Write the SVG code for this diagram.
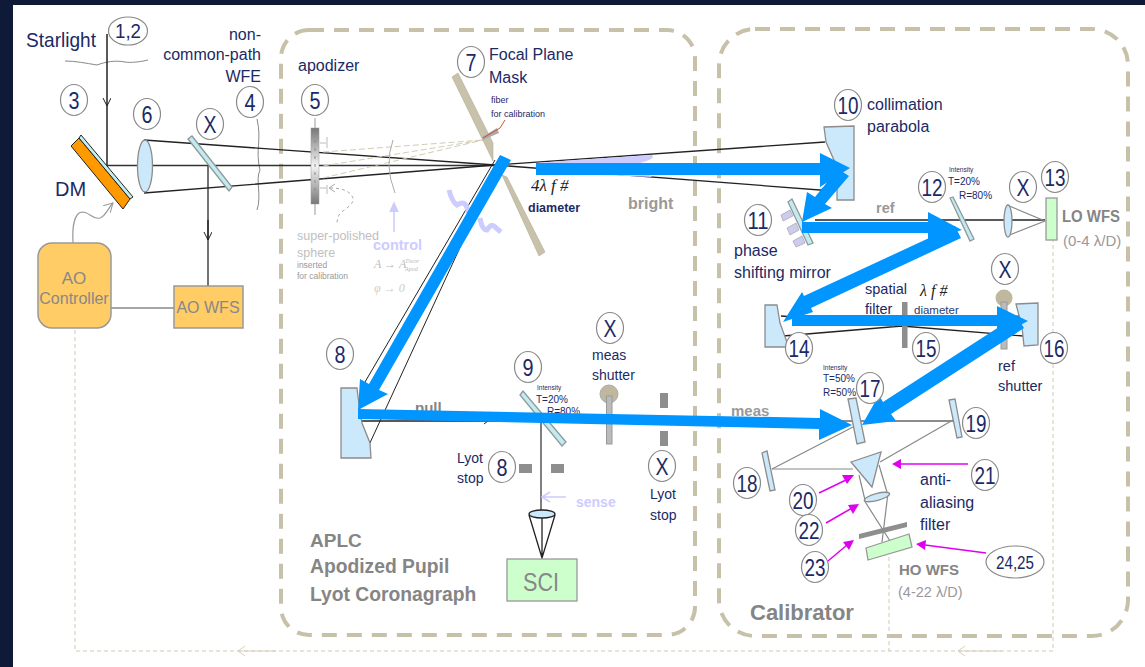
<svg xmlns="http://www.w3.org/2000/svg" width="1145" height="667" viewBox="0 0 1145 667">
<defs>
<linearGradient id="apod" x1="0" y1="0" x2="0" y2="1"><stop offset="0" stop-color="#777"/><stop offset="0.5" stop-color="#f4f4f4"/><stop offset="1" stop-color="#777"/></linearGradient>
<marker id="ah" markerWidth="10" markerHeight="10" refX="8" refY="4" orient="auto" markerUnits="userSpaceOnUse"><path d="M0,0 L8,4 L0,8" fill="none" stroke="#222" stroke-width="1"/></marker>
<marker id="ahg" markerWidth="12" markerHeight="12" refX="9" refY="5" orient="auto" markerUnits="userSpaceOnUse"><path d="M0,0 L9,5 L0,10" fill="none" stroke="#999" stroke-width="1"/></marker>
</defs>
<style>
text{font-family:"Liberation Sans",Arial,sans-serif;fill:#1b2a66}
.n{font-size:24px;text-anchor:middle}
.l{font-size:16px}
.g{fill:#858585;font-weight:bold}
.gl{fill:#c0c0c0}
.li{fill:#ccccff;font-weight:bold}
.c{fill:#fff;stroke:#8a8a8a;stroke-width:1.2}
.box{fill:none;stroke:#c8c1a9;stroke-width:4;stroke-dasharray:15 10}
.ray{fill:none;stroke:#222;stroke-width:1.3}
.rayg{fill:none;stroke:#888;stroke-width:1.2}
.op{fill:#cce8fb;stroke:#8c8c8c;stroke-width:1.3}
.opd{fill:#c5e9f0;stroke:#8c9a9a;stroke-width:1.3}
.sens{fill:#ccffcc;stroke:#999;stroke-width:1.3}
.ao{fill:#ffcc66;stroke:#999;stroke-width:1.5}
.stop{fill:#8e8e8e}
.dot{fill:none;stroke:#cfc9b4;stroke-width:1;stroke-dasharray:4 3}
.mag{stroke:#e000f0;stroke-width:1.5;fill:none}
.magh{fill:#e000f0}
.blue{fill:#0095ff}
.mono{font-family:"Liberation Serif",serif;font-style:italic;fill:#222}
.pad{fill:#ccccee;stroke:#999;stroke-width:.6}
</style>
<rect x="0" y="0" width="1145" height="667" fill="#0f1a38"/>
<rect x="13" y="5" width="1132" height="662" fill="#fff"/>
<g id="frames">
<rect class="box" x="281" y="30" width="414" height="605" rx="28"/>
<rect class="box" x="719" y="29" width="409" height="607" rx="36"/>
</g>
<g id="feedback">
<path class="dot" d="M75,330 V651 H1053 V240"/>
<path class="dot" d="M889,557 V651"/>
<path d="M245,646 L238,651 L245,656 M238,651 H276" fill="none" stroke="#d6d0bd" stroke-width="1"/>
<path d="M965,646 L958,651 L965,656 M958,651 H1002" fill="none" stroke="#d6d0bd" stroke-width="1"/>
</g>
<g id="connectors">
<path d="M65,61 C75,61 85,63 97,65 C105,62 115,60 125,62 C130,63 140,62 148,60" fill="none" stroke="#888" stroke-width="1"/>
<path d="M257,119 C262,140 255,150 260,170 C255,180 262,195 257,210" fill="none" stroke="#888" stroke-width="1"/>
<path class="ray" d="M107,34 V106" marker-end="url(#ah)" style="stroke-width:1.5"/>
<path class="ray" d="M107,106 V165" style="stroke-width:1.5"/>
<path class="ray" d="M107,165.5 H495" style="stroke-width:1.5;stroke:#333"/>
<path class="ray" d="M208,166 V286" style="stroke-width:1.5;stroke:#444"/>
<path class="ray" d="M208,220 V240" marker-end="url(#ah)"/>
<path class="rayg" d="M111,308 H174" style="stroke-width:1.3"/>
<path d="M73,243 C72,225 75,213 82,212 C90,212 92,220 100,218 C106,216 108,208 113,203" fill="none" stroke="#999" stroke-width="1.2" marker-end="url(#ahg)"/>
<path class="ray" d="M144,140 L495,165 L825,142"/>
<path class="ray" d="M144,193 L495,165 L833,191"/>
<path class="ray" d="M360,421 H540"/>
<path class="ray" d="M484,424 L488,421" style="stroke-width:1"/>
<path class="ray" d="M495,160 L365,382" style="stroke-width:1"/>
<path class="ray" d="M498,165 L369,445" style="stroke-width:1"/>
<path class="ray" d="M541,420 V518" style="stroke:#555;stroke-width:1.5"/>
<path class="ray" d="M529,515 L542,558 L555,515 M542,518 V558"/>
<path class="ray" d="M815,220 H1045"/>
<path class="ray" d="M817,197 L823,188"/>
<path class="ray" d="M783,336 L902,326 L1023,336 M781,316 L902,326 L1020,316"/>
<path class="rayg" d="M1007,205 L1045,221 L1007,236"/>
<path class="ray" d="M840,421 H953" style="stroke:#666"/>
<path class="rayg" d="M772,469 L853,427"/>
<path class="rayg" d="M772,469 H853"/>
<path class="rayg" d="M880,462 L953,420"/>
<path class="rayg" d="M859,475 L865,500"/>
<path class="rayg" d="M879,465 L887,492"/>
<path class="rayg" d="M864,500 L890,541 M888,493 L882,542"/>
<path d="M323,152 L483,140 M323,166 L483,140 M323,178 L483,140" fill="none" stroke="#d2cdb4" stroke-width="1" stroke-dasharray="6 3"/>
<path d="M393,140 Q384,165 395,193" fill="none" stroke="#aaa" stroke-width="1"/>
<path d="M330,188 C340,188 350,190 353,198 C355,205 342,210 339,215 C337,219 337,222 337,225" fill="none" stroke="#aaa" stroke-width="1" stroke-dasharray="3 3"/>
<path d="M335,184 L329,188 L335,192" fill="none" stroke="#aaa" stroke-width="1"/>
</g>
<g id="dm"><polygon points="71,146 79,138 130,199 123,209" fill="#ff9900" stroke="#222" stroke-width="1"/><polygon points="79,138 81,135 133,197 130,199" fill="#c5eef0" stroke="#222" stroke-width="1"/><text x="55" y="196" style="font-size:20px">DM</text></g>
<g id="lens6"><ellipse cx="145" cy="166" rx="7.5" ry="26" class="op"/></g>
<g id="mirrorx"><polygon points="188,139 192,136 232,187 229,191" class="opd"/></g>
<g id="ao-controller"><rect class="ao" x="38" y="243" width="73" height="85" rx="14"/><text x="74" y="284" text-anchor="middle" style="font-size:17px;fill:#888">AO</text><text x="74" y="304" text-anchor="middle" style="font-size:16px;fill:#888">Controller</text></g>
<g id="ao-wfs"><rect class="ao" x="174" y="286" width="69" height="42"/><text x="208" y="313" text-anchor="middle" style="font-size:16px;fill:#888">AO WFS</text></g>
<g id="apodizer"><rect x="311" y="128" width="8" height="76" fill="url(#apod)" stroke="#999" stroke-width="0.5"/><path d="M315,118 V128 M315,204 V215" stroke="#999"/><path d="M315,132 V200" stroke="#888" stroke-dasharray="3 5"/><path d="M320,143 H326 M327,137 V148 M320,188 H326 M327,185 V194" fill="none" stroke="#bbb"/></g>
<g id="fpm"><polygon points="452,77 458,73 493,143 493,161" fill="#c9c2aa" stroke="#a8a290" stroke-width="0.5"/><polygon points="502,175 507,177 545,252 539,256" fill="#c9c2aa" stroke="#a8a290" stroke-width="0.5"/><polygon points="482,137 497,128 499,133 483,140" fill="#aaa"/><path d="M483,138 L500,128 L505,120" fill="none" stroke="#d8502a" stroke-width="1"/></g>
<g id="squiggles"><path d="M449,190 Q452,202 457,205 Q465,200 467,208 L469,213 M480,218 Q482,230 487,230 Q492,222 496,228 L501,232" fill="none" stroke="#ccccff" stroke-width="5"/><path d="M394,232 V207 M390,212 L394,203 L398,212" stroke="#ccccff" stroke-width="1.5" fill="#ccccff"/></g>
<g id="mirror8"><path class="op" d="M341,388 H357 L358,397 L362,423 L370,443 L371,458 H341 Z"/></g>
<g id="beamsplitter9"><polygon points="520,395 523,391 566,442 562,446" class="opd"/></g>
<g id="lyot8"><rect class="stop" x="519" y="464" width="13" height="9"/><rect class="stop" x="551" y="464" width="13" height="9"/></g>
<g id="sense-arrow"><path d="M566,497 H543 M550,492 L542,497 L550,502" fill="none" stroke="#ccccff" stroke-width="1.5"/></g>
<g id="lens-sci"><ellipse cx="542" cy="514" rx="13" ry="4" class="op" style="stroke:#222"/></g>
<g id="sci"><rect class="sens" x="507" y="559" width="70" height="42"/><text x="523" y="591" textLength="36" lengthAdjust="spacingAndGlyphs" style="font-size:26px;fill:#888">SCI</text></g>
<g id="meas-shutter"><circle cx="609" cy="394" r="9" fill="#c0b89e" stroke="#aaa"/><rect x="606.500" y="396" width="5.500" height="48" fill="#bbb" stroke="#999"/></g>
<g id="xstop"><rect class="stop" x="660" y="393" width="8" height="15"/><rect class="stop" x="660" y="431" width="8" height="15"/></g>
<g id="parabola10"><path class="op" d="M824,127 L854,126 V200 H837 V167 L826,142 Z"/></g>
<g id="psm11"><polygon points="788,202 792,199 813,243 808,245" class="opd"/><polygon points="781,215 790,210 793,216 783,221" class="pad"/><polygon points="787,228 796,223 799,230 790,235" class="pad"/><polygon points="793,241 802,236 805,243 796,247" class="pad"/></g>
<g id="bs12"><polygon points="950,198 953,197 974,239 970,241" class="opd"/></g>
<g id="lens13"><ellipse cx="1008" cy="221" rx="4" ry="16" class="op"/></g>
<g id="lowfs"><rect class="sens" x="1046" y="198" width="11" height="42"/><text x="1062" y="222" class="g" textLength="58" lengthAdjust="spacingAndGlyphs" style="font-size:16px">LO WFS</text><text x="1063" y="246" class="gl" style="font-size:15px;fill:#999">(0-4 λ/D)</text></g>
<g id="parabola14"><path class="op" d="M765,305 H777 L780,323 L788,345 V347 H765 Z"/></g>
<g id="filter15"><rect class="stop" x="902" y="302" width="5.500" height="46"/></g>
<g id="parabola16"><path class="op" d="M1016,304 L1038,303 V345 L1024,346 L1022,327 Z"/></g>
<g id="ref-shutter"><circle cx="1004" cy="298" r="8.500" fill="#c0b89e"/><rect x="1001" y="302" width="6" height="47" fill="#bbb" stroke="#999"/></g>
<g id="bs17"><polygon points="848,399 856,398 865,442 857,444" class="op"/></g>
<g id="m18"><polygon points="762,453 767,451 775,490 770,491" class="op"/></g>
<g id="m19"><polygon points="949,400 955,399 962,437 957,438" class="op"/></g>
<g id="prism"><polygon points="851,462 881,452 872,487" class="op"/></g>
<g id="lens22"><ellipse cx="877" cy="497" rx="13" ry="3.500" class="op" transform="rotate(-15 877 497)"/></g>
<g id="stop-ho"><polygon points="859,534 907,522 907,527 859,539" class="stop"/></g>
<g id="hownfs"><polygon points="866,548 909,534 912,547 868,560" class="sens"/></g>
<g id="under-text">
<text x="415" y="413" class="g" style="font-size:15px">pull</text>
<text x="547" y="415" style="font-size:10px">R=80%</text>
</g>
<g id="blue-arrows">
<path d="M536,163 H640 C650,160 655,158 652,155 L575,160 Z" fill="#ccccff"/>
<path d="M536,175 H650 L652,177 L600,175 Z" fill="#ccccff"/>
<path class="blue" d="M536,163 H820 V153 L850,168 L820,187 V175 H536 Z"/>
<path class="blue" d="M838,169 L849,176 L825,204 L832,208 L802,222 L807,192 L815,197 Z"/>
<path class="blue" d="M802,222 H928 V212 L962,230 L928,240 V233 H802 Z"/>
<path class="blue" d="M955,226 L961,238 L811,308 L813,312 L783,322 L802,292 L804,296 Z"/>
<path class="blue" d="M792,315 H997 V306 L1028,321 L997,337 V326 H792 Z"/>
<path class="blue" d="M1016,316 L1024,328 L891,414 L896,421 L862,425 L879,395 L883,402 Z"/>
<path class="blue" d="M500,155 L511,160 L379,390 L388,394 L358,410 L360,379 L369,384 Z"/>
<path class="blue" d="M358,409 L820,418 V409 L852,425 L819,440 V429 L358,419 Z"/>
</g>
<g id="mag-arrows">
<path class="mag" d="M968,464 H900"/><polygon class="magh" points="892,464 901,459 901,469"/>
<path class="mag" d="M819,493 L846,480"/><polygon class="magh" points="854,475 842,475 847,484"/>
<path class="mag" d="M826,523 L852,508"/><polygon class="magh" points="859,504 848,505 853,514"/>
<path class="mag" d="M828,561 L847,545"/><polygon class="magh" points="854,540 843,542 849,550"/>
<path class="mag" d="M986,553 L925,545"/><polygon class="magh" points="916,544 926,540 925,550"/>
</g>
<g id="labels">
<text x="26" y="47" textLength="70" lengthAdjust="spacingAndGlyphs" style="font-size:21px">Starlight</text>
<text x="261" y="40" text-anchor="end" style="font-size:16px">non-</text>
<text x="261" y="60" text-anchor="end" style="font-size:16px">common-path</text>
<text x="261" y="82" text-anchor="end" style="font-size:16px">WFE</text>
<text x="298" y="71" class="l">apodizer</text>
<text x="489" y="60" class="l">Focal Plane</text>
<text x="489" y="83" class="l">Mask</text>
<text x="491" y="103" style="font-size:9px">fiber</text>
<text x="491" y="117" style="font-size:9px">for calibration</text>
<text x="531" y="191" class="mono" style="font-size:17px">4λ f #</text>
<text x="528" y="212" style="font-size:12.5px;font-weight:bold">diameter</text>
<text x="628" y="209" class="g" style="font-size:16px;fill:#999">bright</text>
<text x="297" y="240" class="gl" style="font-size:12.5px">super-polished</text>
<text x="297" y="257" class="gl" style="font-size:12.5px">sphere</text>
<text x="297" y="268" class="gl" style="font-size:8.5px;fill:#999">inserted</text>
<text x="297" y="279" class="gl" style="font-size:8.5px;fill:#999">for calibration</text>
<text x="373" y="250" class="li" style="font-size:14.5px">control</text>
<text x="374" y="268" class="mono" style="font-size:12px;fill:#bbb">A → A</text>
<text x="405" y="263" class="mono" style="font-size:6px;fill:#bbb">Theor</text>
<text x="405" y="271" class="mono" style="font-size:6px;fill:#bbb">Apod</text>
<text x="374" y="292" class="mono" style="font-size:12px;fill:#ccc">φ → 0</text>
<text x="537" y="390" style="font-size:6.5px">Intensity</text>
<text x="536" y="403" style="font-size:10px">T=20%</text>
<text x="592" y="360" class="l" style="font-size:14px">meas</text>
<text x="592" y="380" class="l" style="font-size:14px">shutter</text>
<text x="457" y="463" class="l" style="font-size:14px">Lyot</text>
<text x="457" y="483" class="l" style="font-size:14px">stop</text>
<text x="650" y="499" class="l" style="font-size:14px">Lyot</text>
<text x="650" y="520" class="l" style="font-size:14px">stop</text>
<text x="576" y="507" class="li" style="font-size:14px">sense</text>
<text x="310" y="547" class="g" style="font-size:19px">APLC</text>
<text x="310" y="573" class="g" style="font-size:19.3px">Apodized Pupil</text>
<text x="310" y="601" class="g" style="font-size:19.300px">Lyot Coronagraph</text>
<text x="867" y="110" class="l">collimation</text>
<text x="867" y="132" class="l">parabola</text>
<text x="876" y="213" class="g" style="font-size:14.5px;fill:#999">ref</text>
<text x="949" y="172" style="font-size:6.5px">Intensity</text>
<text x="948" y="185" style="font-size:10px">T=20%</text>
<text x="959" y="199" style="font-size:10px">R=80%</text>
<text x="734" y="256" class="l">phase</text>
<text x="734" y="278" class="l">shifting mirror</text>
<text x="865" y="294" class="l" style="font-size:14.5px">spatial</text>
<text x="865" y="314" class="l" style="font-size:14.5px">filter</text>
<text x="920" y="296" class="mono" style="font-size:16px">λ f #</text>
<text x="914" y="314" style="font-size:11.5px;fill:#2a3a70">diameter</text>
<text x="998" y="371" class="l" style="font-size:14.5px">ref</text>
<text x="998" y="391" class="l" style="font-size:14.5px">shutter</text>
<text x="823" y="370" style="font-size:6.5px">Intensity</text>
<text x="823" y="382" style="font-size:10px">T=50%</text>
<text x="823" y="396" style="font-size:10px">R=50%</text>
<text x="731" y="416" class="g" style="font-size:15px;fill:#999">meas</text>
<text x="920" y="485" class="l">anti-</text>
<text x="920" y="508" class="l">aliasing</text>
<text x="920" y="530" class="l">filter</text>
<text x="899" y="575" class="g" style="font-size:15px">HO WFS</text>
<text x="898" y="597" class="gl" style="font-size:14.5px;fill:#999">(4-22 λ/D)</text>
<text x="750" y="620" class="g" style="font-size:22px">Calibrator</text>
</g>
<g id="callouts">
<ellipse class="c" cx="128" cy="31" rx="19.500" ry="14"/><text x="115" y="38" textLength="26" lengthAdjust="spacingAndGlyphs" style="font-size:21px">1,2</text>
<ellipse class="c" cx="74" cy="100" rx="13.500" ry="15.500"/><text class="n" x="74" y="108.500" textLength="11" lengthAdjust="spacingAndGlyphs">3</text>
<ellipse class="c" cx="147" cy="114" rx="13.500" ry="15.500"/><text class="n" x="147" y="122.500" textLength="11" lengthAdjust="spacingAndGlyphs">6</text>
<ellipse class="c" cx="210" cy="124" rx="13.500" ry="15.500"/><text class="n" x="210" y="132.500" textLength="13" lengthAdjust="spacingAndGlyphs">X</text>
<ellipse class="c" cx="250" cy="102" rx="13.500" ry="15.500"/><text class="n" x="250" y="110.500" textLength="11" lengthAdjust="spacingAndGlyphs">4</text>
<ellipse class="c" cx="315" cy="100" rx="13.500" ry="15.500"/><text class="n" x="315" y="108.500" textLength="11" lengthAdjust="spacingAndGlyphs">5</text>
<ellipse class="c" cx="471" cy="62" rx="13.500" ry="15.500"/><text class="n" x="471" y="70.500" textLength="11" lengthAdjust="spacingAndGlyphs">7</text>
<ellipse class="c" cx="340" cy="354" rx="13.500" ry="15.500"/><text class="n" x="340" y="362.500" textLength="11" lengthAdjust="spacingAndGlyphs">8</text>
<ellipse class="c" cx="528" cy="367" rx="13.500" ry="15.500"/><text class="n" x="528" y="375.500" textLength="11" lengthAdjust="spacingAndGlyphs">9</text>
<ellipse class="c" cx="610" cy="328" rx="13.500" ry="15.500"/><text class="n" x="610" y="336.500" textLength="13" lengthAdjust="spacingAndGlyphs">X</text>
<ellipse class="c" cx="502" cy="467" rx="13.500" ry="15.500"/><text class="n" x="502" y="475.500" textLength="11" lengthAdjust="spacingAndGlyphs">8</text>
<ellipse class="c" cx="662" cy="466" rx="13.500" ry="15.500"/><text class="n" x="662" y="474.500" textLength="13" lengthAdjust="spacingAndGlyphs">X</text>
<ellipse class="c" cx="848" cy="105" rx="13.500" ry="15.500"/><text class="n" x="848" y="113.500" textLength="21" lengthAdjust="spacingAndGlyphs">10</text>
<ellipse class="c" cx="758" cy="220" rx="13.500" ry="15.500"/><text class="n" x="758" y="228.500" textLength="21" lengthAdjust="spacingAndGlyphs">11</text>
<ellipse class="c" cx="932" cy="187" rx="13.500" ry="15.500"/><text class="n" x="932" y="195.500" textLength="21" lengthAdjust="spacingAndGlyphs">12</text>
<ellipse class="c" cx="1023" cy="187" rx="13.500" ry="15.500"/><text class="n" x="1023" y="195.500" textLength="13" lengthAdjust="spacingAndGlyphs">X</text>
<ellipse class="c" cx="1055" cy="177" rx="13.500" ry="15.500"/><text class="n" x="1055" y="185.500" textLength="21" lengthAdjust="spacingAndGlyphs">13</text>
<ellipse class="c" cx="1005" cy="269" rx="13.500" ry="15.500"/><text class="n" x="1005" y="277.500" textLength="13" lengthAdjust="spacingAndGlyphs">X</text>
<ellipse class="c" cx="799" cy="348" rx="13.500" ry="15.500"/><text class="n" x="799" y="356.500" textLength="21" lengthAdjust="spacingAndGlyphs">14</text>
<ellipse class="c" cx="926" cy="348" rx="13.500" ry="15.500"/><text class="n" x="926" y="356.500" textLength="21" lengthAdjust="spacingAndGlyphs">15</text>
<ellipse class="c" cx="1054" cy="348" rx="13.500" ry="15.500"/><text class="n" x="1054" y="356.500" textLength="21" lengthAdjust="spacingAndGlyphs">16</text>
<ellipse class="c" cx="870" cy="388" rx="13.500" ry="15.500"/><text class="n" x="870" y="396.500" textLength="21" lengthAdjust="spacingAndGlyphs">17</text>
<ellipse class="c" cx="747" cy="483" rx="13.500" ry="15.500"/><text class="n" x="747" y="491.500" textLength="21" lengthAdjust="spacingAndGlyphs">18</text>
<ellipse class="c" cx="976" cy="423" rx="13.500" ry="15.500"/><text class="n" x="976" y="431.500" textLength="21" lengthAdjust="spacingAndGlyphs">19</text>
<ellipse class="c" cx="803" cy="500" rx="13.500" ry="15.500"/><text class="n" x="803" y="508.500" textLength="21" lengthAdjust="spacingAndGlyphs">20</text>
<ellipse class="c" cx="985" cy="475" rx="13.500" ry="15.500"/><text class="n" x="985" y="483.500" textLength="21" lengthAdjust="spacingAndGlyphs">21</text>
<ellipse class="c" cx="809" cy="530" rx="13.500" ry="15.500"/><text class="n" x="809" y="538.500" textLength="21" lengthAdjust="spacingAndGlyphs">22</text>
<ellipse class="c" cx="815" cy="567" rx="13.500" ry="15.500"/><text class="n" x="815" y="575.500" textLength="21" lengthAdjust="spacingAndGlyphs">23</text>
<ellipse class="c" cx="1015" cy="562" rx="29" ry="16"/><text x="996" y="569" textLength="38" lengthAdjust="spacingAndGlyphs" style="font-size:19px">24,25</text>
</g>
</svg>
